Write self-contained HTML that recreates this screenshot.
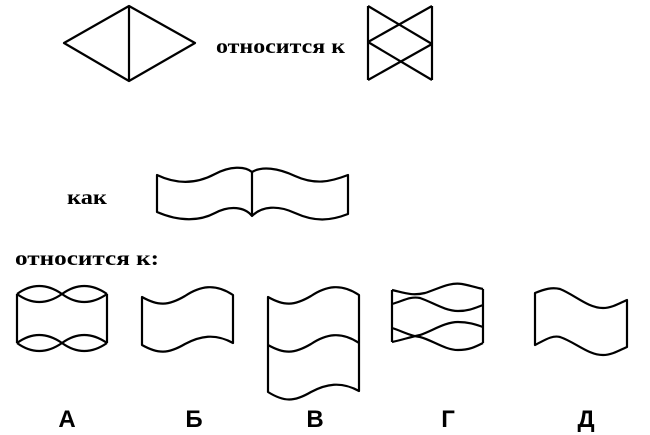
<!DOCTYPE html>
<html><head><meta charset="utf-8"><style>
html,body{margin:0;padding:0;background:#fff;}
svg{display:block;}
</style></head><body>
<svg width="650" height="435" viewBox="0 0 650 435" xmlns="http://www.w3.org/2000/svg">
<g fill="none" stroke="#000" stroke-width="2.2" stroke-linejoin="round">
<path d="M64,43 L129,6 L195,43 L129,81 Z M129,6 L129,81"/>
<path d="M368,6 L368,80 M432,6 L432,80 M368,6 L432,44 L368,80 M432,6 L368,42 L432,80"/>
<path d="M157,175 C180,186 200,182 215,174 C230,166 245,166 252,172 C262,166 278,168 295,176 C315,185 330,182 348,175 L348,214 C330,221 315,222 295,213 C278,205 262,206 252,216 C245,207 230,205 215,213 C200,221 180,222 157,212 Z M252,172 L252,216"/>
<!-- A -->
<path d="M17,294 Q39,278 62,294 Q84,278 107,294 M17,294 Q39,310 62,294 Q84,310 107,294 M17,294 L17,343 M107,294 L107,343 M17,343 Q39,327 62,343 Q84,327 107,343 M17,343 Q39,359 62,343 Q84,359 107,343"/>
<path d="M142,297 C158,306 168,306 185,296 C200,286 215,283 233,295 L233,343 C215,333 200,336 185,344 C168,354 158,354 142,345 Z"/>
<path d="M268,297 C284,306 294,306 311,296 C326,286 341,283 359,295 L359,391 C341,381 326,384 311,392 C294,402 284,402 268,392 Z M268,345 C284,354 294,354 311,344 C326,334 341,331 359,343"/>
<path d="M392,290 L392,342 M483,289 L483,343 M392,290 C405,293 412,296 425,293 C440,288 450,282 462,284 C472,286 478,288 483,289 M392,304 C403,301 410,296 420,298 C432,302 445,311 458,311 C470,311 477,307 483,305 M392,328 C402,331 410,336 420,337 C432,340 445,350 458,350 C470,350 477,346 483,343 M392,342 C402,340 410,337 420,335 C432,331 445,322 458,322 C470,322 477,325 483,327"/>
<path d="M535,293 C545,289 552,287 560,289 C575,295 588,308 603,308 C612,308 620,303 627,300 L627,347 C620,350 612,355 603,355 C588,355 575,342 560,337 C552,335 545,340 535,345 Z"/>
</g>
<g font-family="'Liberation Serif', 'DejaVu Serif', serif" font-weight="bold" font-size="21" fill="#000">
<text x="216" y="53" textLength="129" lengthAdjust="spacingAndGlyphs">относится к</text>
<text x="67" y="204" textLength="40" lengthAdjust="spacingAndGlyphs">как</text>
<text x="15" y="265" textLength="144" lengthAdjust="spacingAndGlyphs">относится к:</text>
</g>
<g font-family="'Liberation Sans', 'DejaVu Sans', sans-serif" font-weight="bold" font-size="24" fill="#000" text-anchor="middle">
<text x="67" y="427">А</text>
<text x="194" y="427">Б</text>
<text x="315" y="427">В</text>
<text x="448" y="427">Г</text>
<text x="586" y="427">Д</text>
</g>
</svg>
</body></html>
